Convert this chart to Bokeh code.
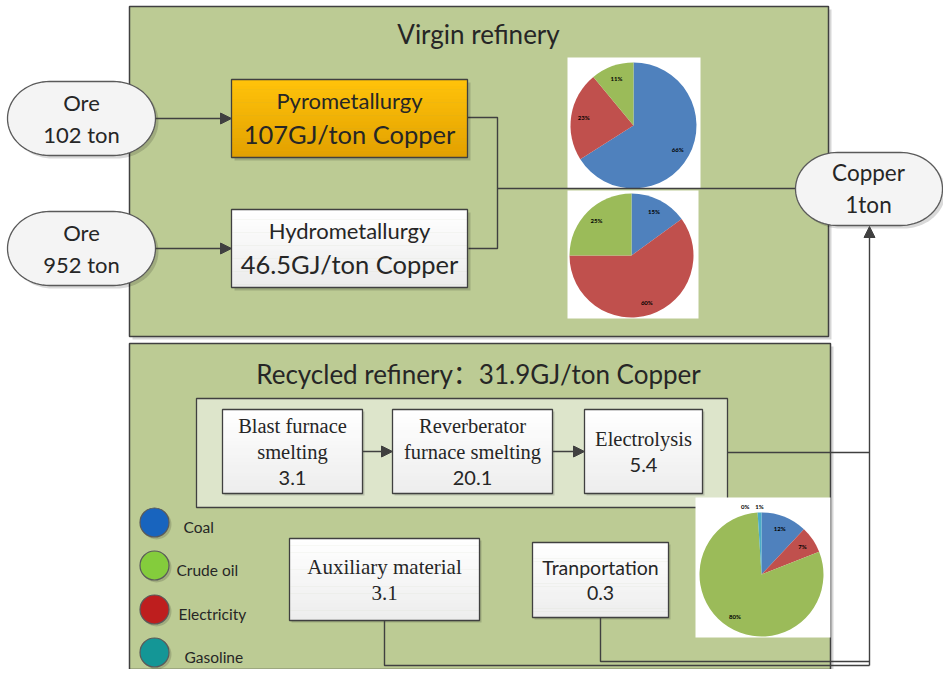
import numpy as np
from bokeh.plotting import figure
from bokeh.models import Range1d, Arrow, NormalHead
from bokeh.core.properties import value
from bokeh.embed import file_html
from bokeh.resources import INLINE

# ---------------- data ----------------
ore_tons = [102, 952]
virgin_routes = ["Pyrometallurgy", "Hydrometallurgy"]
virgin_energy = [107, 46.5]            # GJ / ton copper
copper_output = 1                      # ton

pie_sources_virgin = ["Coal", "Electricity", "Crude oil"]
pyro_share = [66, 23, 11]              # %
hydro_share = [15, 60, 25]             # %

recycled_total = 31.9                  # GJ / ton copper
recycled_steps = [["Blast furnace", "smelting"], ["Reverberator", "furnace smelting"], ["Electrolysis"]]
recycled_step_energy = ["3.1", "20.1", "5.4"]
support_items = ["Auxiliary material", "Tranportation"]
support_energy = ["3.1", "0.3"]

pie_sources_recycled = ["Coal", "Electricity", "Crude oil", "Other", "Gasoline"]
recycled_share = [12, 7, 80, 0, 1]     # %

legend_labels = ["Coal", "Crude oil", "Electricity", "Gasoline"]

# ---------------- styles ----------------
SANS = value("Lato")
TITLE = value("Lato, 'Noto Sans CJK SC'")
SERIF = value("Liberation Serif")
INK = "#262626"
EDGE = "#404040"
PANEL = "#bccb94"
INNER = "#dde5cb"
SOURCE_COLORS = {"Coal": "#4f81bd", "Electricity": "#c0504d", "Crude oil": "#9bbb59",
                 "Other": "#8064a2", "Gasoline": "#4bacc6"}
LEGEND_COLORS = {"Coal": "#1864be", "Crude oil": "#84cc3c", "Electricity": "#be1e1e", "Gasoline": "#149696"}

p = figure(width=943, height=669, x_range=Range1d(0, 943), y_range=Range1d(669, 0),
           output_backend="svg", toolbar_location=None, min_border=0,
           x_axis_location=None, y_axis_location=None, outline_line_color=None)
p.grid.visible = False
p.background_fill_color = "white"
p.border_fill_color = "white"


def mix(c0, c1, t):
    a = [int(c0[i:i + 2], 16) for i in (1, 3, 5)]
    b = [int(c1[i:i + 2], 16) for i in (1, 3, 5)]
    return "#%02x%02x%02x" % tuple(int(round(a[k] + (b[k] - a[k]) * t)) for k in range(3))


def box(l, r, t, b, fill, lw=1.3, shadow=3, line=EDGE, fill2=None):
    if shadow:
        p.quad(left=l + shadow, right=r + shadow, top=t + shadow, bottom=b + shadow,
               fill_color="black", fill_alpha=0.16, line_color=None)
    if fill2 is None:
        p.quad(left=l, right=r, top=t, bottom=b, fill_color=fill, line_color=line, line_width=lw)
    else:
        n = 24
        edges = np.linspace(t, b, n + 1)
        p.quad(left=[l] * n, right=[r] * n, top=list(edges[:-1]), bottom=list(edges[1:] + 0.5),
               fill_color=[mix(fill, fill2, k / (n - 1)) for k in range(n)], line_color=None)
        p.quad(left=l, right=r, top=t, bottom=b, fill_color=None, line_color=line, line_width=lw)


def pill(l, r, t, b, fill="#f4f4f4"):
    ry = (b - t) / 2.0
    rx = 42.0
    cy = (t + b) / 2.0
    th = np.linspace(-np.pi / 2, np.pi / 2, 40)
    xs = list(r - rx + rx * np.cos(th)) + list(l + rx - rx * np.cos(th[::-1]))
    ys = list(cy + ry * np.sin(th)) + list(cy + ry * np.sin(th[::-1]))
    p.patch([x + 3 for x in xs], [y + 3 for y in ys], fill_color="black", fill_alpha=0.15, line_color=None)
    p.patch(xs, ys, fill_color=fill, line_color="#5a5a5a", line_width=1.3)


def txt(x, y, s, size, font=SANS, align="center", color=INK, style="normal"):
    p.text(x=[x], y=[y], text=[s], text_font=font, text_font_size=size, text_align=align,
           text_baseline="middle", text_color=color, text_font_style=style)


def arrow(x0, y0, x1, y1):
    p.add_layout(Arrow(end=NormalHead(size=11, fill_color=EDGE, line_color=EDGE),
                       x_start=x0, y_start=y0, x_end=x1, y_end=y1,
                       line_color=EDGE, line_width=1.4))


def pie(cx, cy, r, labels, shares, small_offsets=None):
    total = float(sum(shares))
    cum = np.cumsum([0] + list(shares)) / total
    for i, (lab, v) in enumerate(zip(labels, shares)):
        a0 = np.pi / 2 - 2 * np.pi * cum[i]
        a1 = np.pi / 2 - 2 * np.pi * cum[i + 1]
        if v > 0:
            p.wedge(x=[cx], y=[cy], radius=r, start_angle=a0, end_angle=a1, direction="clock",
                    fill_color=SOURCE_COLORS[lab], line_color=None)
        mid = (a0 + a1) / 2
        rr = r * (1.1 if v < 3 else 0.8)
        dx = (small_offsets or {}).get(i, 0)
        p.text(x=[cx + rr * np.cos(mid) + dx], y=[cy - rr * np.sin(mid)], text=[f"{v}%"],
               text_font=SANS, text_font_size="6px", text_font_style="bold",
               text_align="center", text_baseline="middle", text_color="black")


# ---------------- panels ----------------
box(129, 828, 6, 336, PANEL, lw=1.5)
box(129, 830, 343, 669, PANEL, lw=1.5)

txt(478, 33, "Virgin refinery", "26px")
txt(478, 373, f"Recycled refinery：{recycled_total}GJ/ton Copper", "26px", font=TITLE)

# connectors (virgin)
p.line([467, 497, 497, 468], [117, 117, 248, 248], line_color=EDGE, line_width=1.4)

# pies (virgin)
p.quad(left=567, right=700, top=57, bottom=188, fill_color="white", line_color=None)
p.quad(left=567, right=698, top=190, bottom=318, fill_color="white", line_color=None)
pie(633, 125, 63, pie_sources_virgin, pyro_share)
pie(631, 255, 62, pie_sources_virgin, hydro_share)

p.line([497, 797], [188, 188], line_color=EDGE, line_width=1.4)

# ore inputs and routes
route_boxes = [(231, 467, 79, 157, "#ffc20a", "#e2a100"), (231, 467, 209, 287, "#ffffff", "#ececec")]
for i, (tons, route, e) in enumerate(zip(ore_tons, virgin_routes, virgin_energy)):
    top = [81, 211][i]
    pill(7, 155, top, top + 74)
    txt(81, top + 21, "Ore", "22px")
    txt(81, top + 53, f"{tons} ton", "22px")
    l, r, t, b, f1, f2 = route_boxes[i]
    box(l, r, t, b, f1, fill2=f2)
    txt((l + r) / 2, t + 21, route, "22px")
    txt((l + r) / 2, t + 54, f"{e:g}GJ/ton Copper", "25.5px")
    arrow(155, top + 37, 231, top + 37)

# recycled chain
box(196, 727, 398, 507, INNER, lw=1.3, shadow=0)
step_boxes = [(222, 362), (392, 552), (584, 702)]
for (l, r), lines, e in zip(step_boxes, recycled_steps, recycled_step_energy):
    box(l, r, 409, 493, "#ffffff", shadow=2, fill2="#ededed")
    all_lines = lines + [e]
    n = len(all_lines)
    y0 = 451 - (n - 1) * 13
    for k, s in enumerate(all_lines):
        if s[0].isdigit():
            txt((l + r) / 2, y0 + 26 * k, s, "20px", font=SANS)
        else:
            txt((l + r) / 2, y0 + 26 * k, s, "20.5px", font=SERIF)
arrow(362, 451, 392, 451)
arrow(552, 451, 584, 451)

# support items
sup_boxes = [(289, 479, 538, 620), (532, 668, 542, 617)]
for (l, r, t, b), name, e, fnt in zip(sup_boxes, support_items, support_energy, [SERIF, SANS]):
    box(l, r, t, b, "#ffffff", shadow=2, fill2="#ededed")
    size = "21px" if fnt is SERIF else "19.5px"
    txt((l + r) / 2, (t + b) / 2 - 13, name, size, font=fnt)
    txt((l + r) / 2, (t + b) / 2 + 13, e, size, font=fnt)

# recycled pie
p.quad(left=695, right=830, top=497, bottom=637, fill_color="white", line_color=None)
pie(761, 574, 62, pie_sources_recycled, recycled_share, small_offsets={3: -12, 4: 0})

# legend
for k, lab in enumerate(legend_labels):
    yy = [522, 565, 609, 652][k]
    p.scatter(x=[156], y=[yy + 2], size=30, marker="circle", fill_color="black", fill_alpha=0.15, line_color=None)
    p.scatter(x=[154], y=[yy], size=29, marker="circle", fill_color=LEGEND_COLORS[lab],
              line_color="#5a5a5a", line_width=1.2)
    txt([183, 176, 178, 184][k], yy + 4, lab, "15.5px", align="left")

# connectors (recycled -> copper)
p.line([727, 869], [452, 452], line_color=EDGE, line_width=1.4)
p.line([384, 384, 869], [620, 665, 665], line_color=EDGE, line_width=1.4)
p.line([600, 600, 869], [617, 661, 661], line_color=EDGE, line_width=1.4)
arrow(869, 665, 869, 226)

# copper output
pill(795, 942, 152, 225)
txt(868, 172, "Copper", "22.5px")
txt(868, 204, f"{copper_output}ton", "22.5px")

open("out.html", "w").write(file_html(p, INLINE))
